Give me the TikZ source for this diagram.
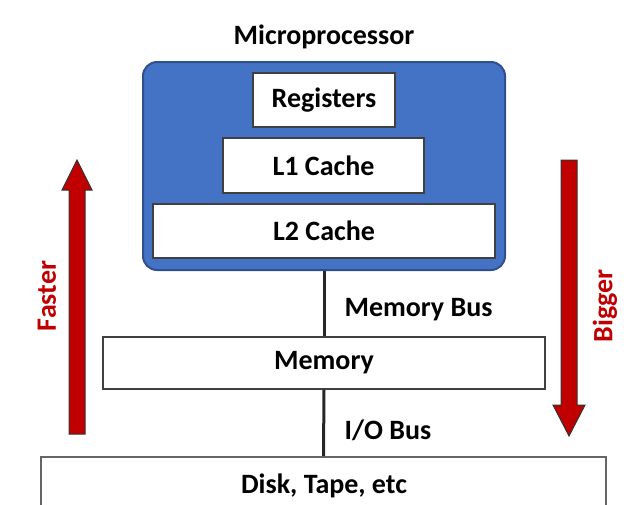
\documentclass[tikz,border=0pt]{standalone}
\usepackage{fontspec}
\setmainfont{Carlito}
\definecolor{cpublue}{HTML}{4472C4}
\definecolor{cpuedge}{HTML}{2F4F8F}
\definecolor{arrowred}{HTML}{C00000}
\begin{document}
\begin{tikzpicture}[
    x=1pt, y=-1pt,
    level/.style={rectangle, draw=black!75, fill=white, line width=1.5pt, inner sep=0pt},
    bus/.style={line width=3pt, black!85},
    every node/.style={font=\bfseries\fontsize{28}{32}\selectfont}
]
\useasboundingbox (0,0) rectangle (624,504);

% Processor
\node (mp) at (324,37) {Microprocessor};
\node[rectangle, draw=cpuedge, fill=cpublue, line width=2pt, rounded corners=14pt,
      minimum width=362pt, minimum height=208pt, inner sep=0pt] (cpu) at (324,166) {};
\node[level, minimum width=142pt, minimum height=54pt] (reg) at (324,100) {Registers};
\node[level, minimum width=201pt, minimum height=55pt] (l1) at (323.5,165.5) {L1 Cache};
\node[level, minimum width=342pt, minimum height=54pt] (l2) at (324,231) {L2 Cache};

% Memory and disk
\node[level, minimum width=442pt, minimum height=52pt] (mem) at (324,363) {Memory};
\node[level, draw=black!60, minimum width=565pt, minimum height=80pt, anchor=north] (disk) at (323.5,456) {};
\node (disklabel) at (324,486) {Disk, Tape, etc};

% Buses
\draw[bus] (cpu.south) -- (mem.north);
\draw[bus] (mem.south) -- (disk.north);
\node[anchor=west] (membus) at (341,310) {Memory Bus};
\node[anchor=west] (iobus) at (341,430) {I/O Bus};

% Speed and size arrows
\filldraw[fill=arrowred, draw=black!80, line width=1pt]
    (69,434) -- (69,190) -- (62,190) -- (77,160) -- (92,190) -- (85,190) -- (85,434) -- cycle;
\filldraw[fill=arrowred, draw=black!80, line width=1pt]
    (561,160) -- (561,405) -- (553,405) -- (569,436) -- (585,405) -- (577,405) -- (577,160) -- cycle;
\node[rotate=90, text=arrowred] (faster) at (47,296) {Faster};
\node[rotate=90, text=arrowred] (bigger) at (605,306) {Bigger};

\end{tikzpicture}
\end{document}
